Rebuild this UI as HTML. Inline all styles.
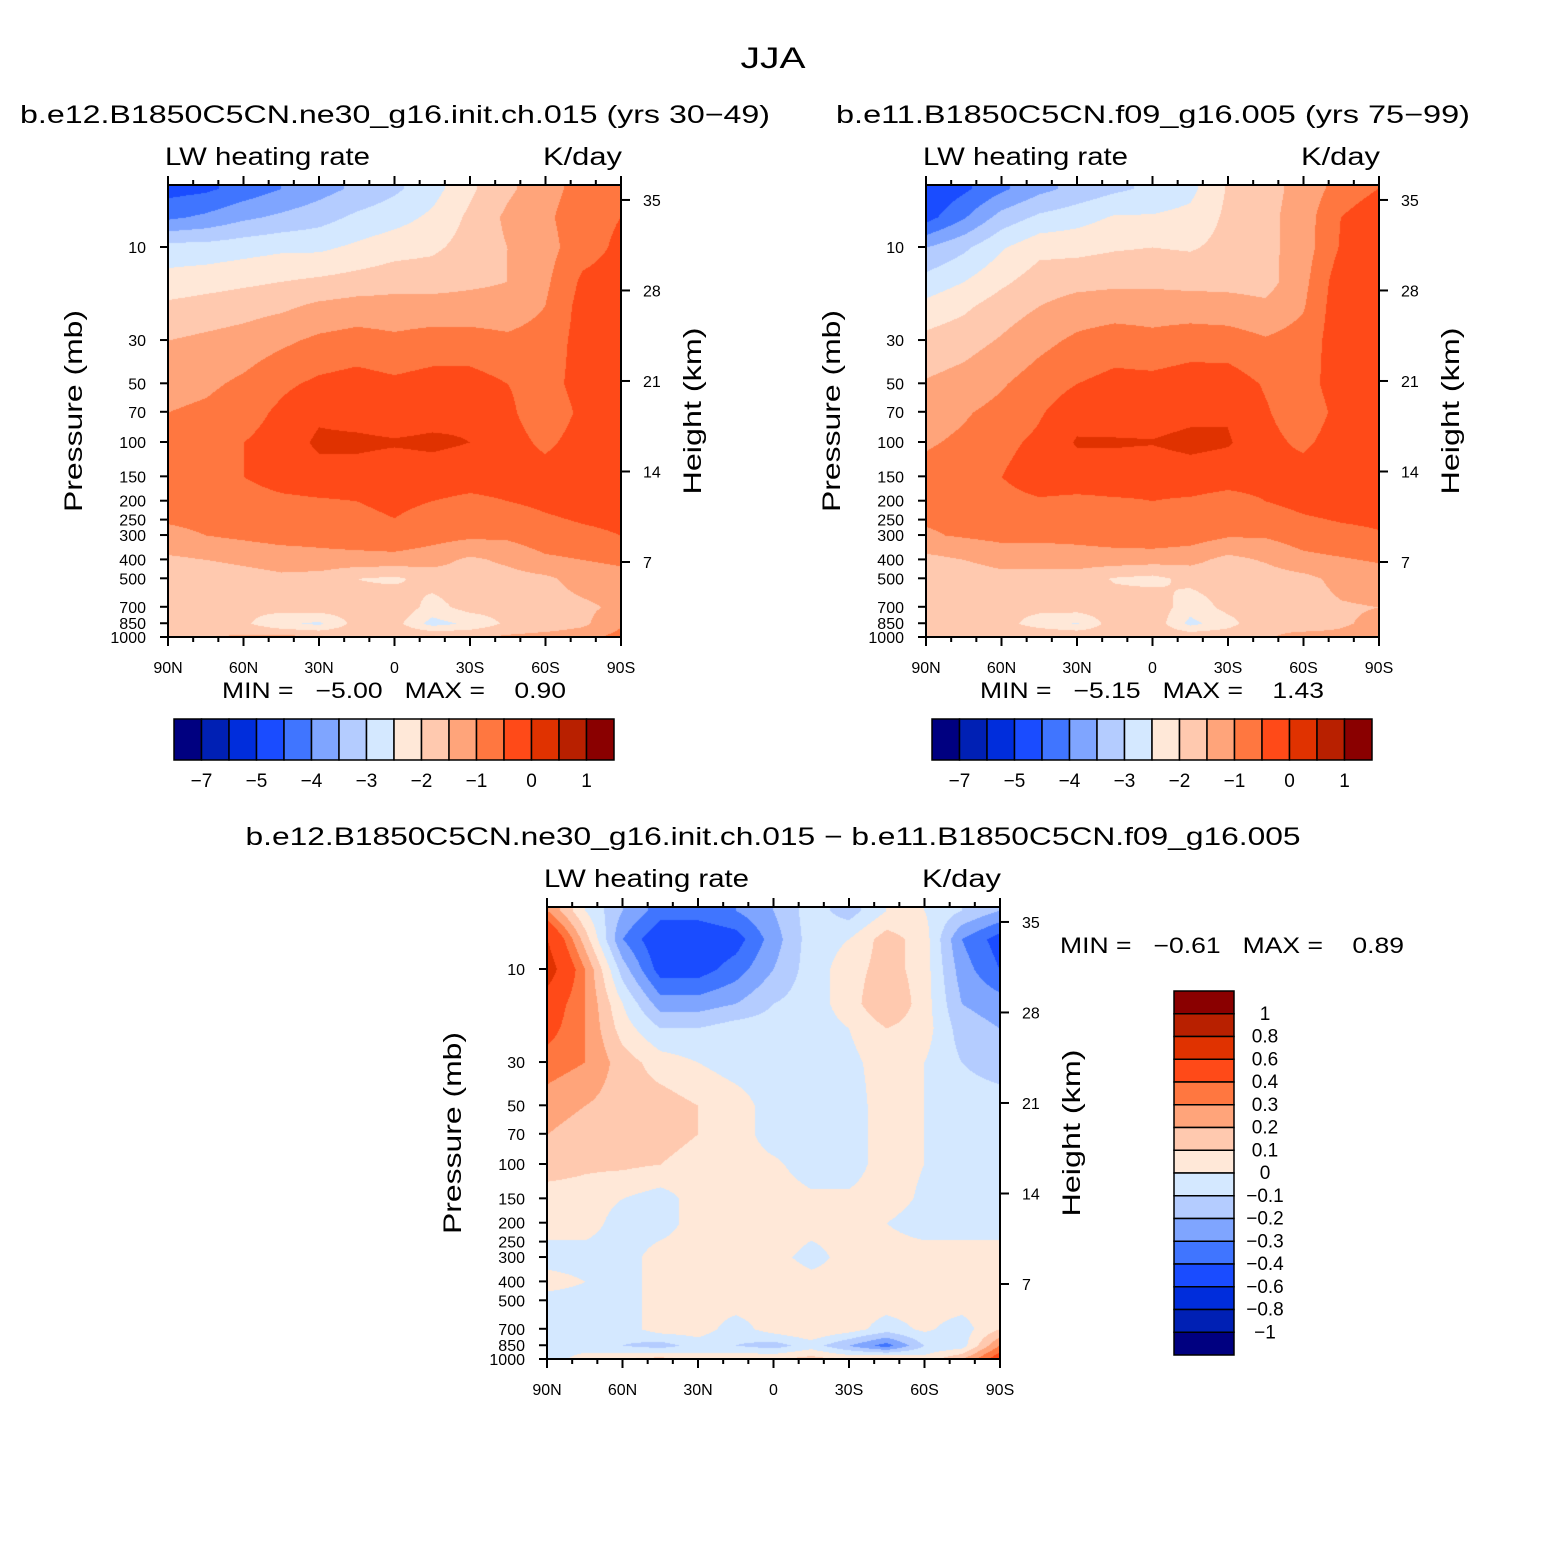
<!DOCTYPE html>
<html><head><meta charset="utf-8"><style>
body{margin:0;background:#fff;width:1547px;height:1544px;position:relative;overflow:hidden;font-family:"Liberation Sans",sans-serif}
canvas{position:absolute}
svg{position:absolute;left:0;top:0}
</style></head><body>
<canvas id="c1" width="453" height="452" style="left:168px;top:185px"></canvas>
<canvas id="c2" width="453" height="452" style="left:926px;top:185px"></canvas>
<canvas id="c3" width="453" height="452" style="left:547px;top:907px"></canvas>
<svg id="s" width="1547" height="1544"></svg>
<script>
const lats=["90N","75N","60N","45N","30N","15N","0","15S","30S","45S","60S","75S","90S"];
const levels=[5,7,10,15,20,30,50,70,100,150,200,300,400,500,700,850,1000];
const colors=["#000080","#0020B4","#002DDC","#1A4CFF","#4075FF","#7FA5FF","#B4CCFF","#D4E8FF","#FFE8D8","#FFC9AF","#FFA47A","#FF7740","#FF4A18","#E03200","#B82000","#8A0000"];
const bounds1=[-7,-6,-5,-4.5,-4,-3.5,-3,-2.5,-2,-1.5,-1,-0.5,0,0.5,1];
const boundsD=[-1,-0.8,-0.6,-0.4,-0.3,-0.2,-0.1,0,0.1,0.2,0.3,0.4,0.6,0.8,1];
const tickLabels1=["−7","−5","−4","−3","−2","−1","0","1"];
const tickLabelsD=["1","0.8","0.6","0.4","0.3","0.2","0.1","0","−0.1","−0.2","−0.3","−0.4","−0.6","−0.8","−1"];
const field1=[
[-4.7,-4.6,-4.3,-4.0,-3.7,-3.4,-3.1,-2.7,-2.1,-1.6,-1.2,-0.8,-0.6],
[-4.1,-3.9,-3.6,-3.4,-3.2,-2.9,-2.7,-2.4,-1.9,-1.4,-1.1,-0.7,-0.5],
[-2.8,-2.8,-2.7,-2.6,-2.6,-2.4,-2.2,-2.1,-1.8,-1.5,-1.2,-0.7,-0.4],
[-2.3,-2.2,-2.1,-2.0,-1.9,-1.8,-1.7,-1.7,-1.6,-1.5,-1.1,-0.4,-0.3],
[-1.9,-1.8,-1.7,-1.6,-1.4,-1.3,-1.3,-1.3,-1.3,-1.3,-1.0,-0.3,-0.25],
[-1.5,-1.4,-1.3,-1.1,-0.9,-0.8,-0.9,-0.8,-0.8,-0.9,-0.8,-0.3,-0.2],
[-1.2,-1.1,-0.9,-0.6,-0.4,-0.3,-0.4,-0.3,-0.3,-0.5,-0.7,-0.3,-0.2],
[-1.0,-0.9,-0.7,-0.4,-0.1,-0.2,-0.3,-0.2,-0.1,-0.4,-0.8,-0.4,-0.2],
[-0.9,-0.8,-0.5,-0.3,0.1,0.1,0.05,0.1,0.0,-0.3,-0.6,-0.3,-0.2],
[-0.8,-0.7,-0.5,-0.3,-0.2,-0.2,-0.3,-0.25,-0.3,-0.3,-0.3,-0.2,-0.2],
[-0.8,-0.8,-0.7,-0.6,-0.55,-0.5,-0.4,-0.5,-0.6,-0.5,-0.4,-0.3,-0.3],
[-1.1,-1.0,-0.9,-0.8,-0.8,-0.7,-0.6,-0.8,-0.9,-0.9,-0.7,-0.6,-0.5],
[-1.6,-1.5,-1.4,-1.3,-1.2,-1.2,-1.2,-1.3,-1.6,-1.4,-1.1,-1.0,-0.9],
[-1.8,-1.8,-1.7,-1.6,-1.7,-2.0,-2.1,-1.8,-1.7,-1.7,-1.6,-1.3,-1.2],
[-1.8,-1.8,-1.9,-1.8,-1.7,-1.8,-1.6,-2.2,-1.8,-1.8,-1.7,-1.6,-1.4],
[-1.8,-1.8,-1.9,-2.4,-2.6,-1.8,-1.8,-2.7,-2.4,-1.9,-1.8,-1.6,-1.1],
[-1.6,-1.5,-1.4,-1.3,-1.4,-1.6,-1.5,-1.4,-1.5,-1.4,-1.3,-1.2,-0.8]];
const field2=[
[-5.0,-4.6,-4.1,-3.65,-3.35,-3.1,-2.9,-2.65,-1.95,-1.7,-1.3,-0.8,-0.5],
[-4.7,-4.05,-3.3,-2.9,-2.7,-2.45,-2.45,-2.35,-1.9,-1.65,-1.25,-0.5,-0.15],
[-3.5,-3.1,-2.55,-2.15,-2.15,-2.05,-2.0,-2.05,-1.85,-1.65,-1.25,-0.45,-0.1],
[-2.8,-2.5,-2.1,-1.75,-1.65,-1.6,-1.6,-1.65,-1.65,-1.7,-1.15,-0.2,-0.1],
[-2.35,-2.1,-1.75,-1.5,-1.3,-1.25,-1.25,-1.25,-1.3,-1.4,-1.05,-0.15,-0.05],
[-1.85,-1.7,-1.45,-1.15,-0.9,-0.75,-0.85,-0.75,-0.77,-0.95,-0.8,-0.2,-0.05],
[-1.45,-1.3,-1.05,-0.75,-0.5,-0.35,-0.35,-0.25,-0.25,-0.55,-0.7,-0.25,-0.15],
[-1.2,-1.05,-0.85,-0.55,-0.2,-0.25,-0.25,-0.15,-0.05,-0.45,-0.8,-0.35,-0.15],
[-1.05,-0.92,-0.62,-0.4,0.05,0.05,0.03,0.15,0.05,-0.35,-0.6,-0.25,-0.15],
[-0.85,-0.75,-0.5,-0.25,-0.25,-0.25,-0.35,-0.27,-0.32,-0.35,-0.28,-0.15,-0.15],
[-0.85,-0.85,-0.65,-0.55,-0.6,-0.55,-0.5,-0.55,-0.65,-0.5,-0.35,-0.25,-0.25],
[-1.05,-0.95,-0.85,-0.85,-0.85,-0.75,-0.65,-0.75,-0.95,-0.95,-0.75,-0.65,-0.55],
[-1.65,-1.5,-1.35,-1.35,-1.25,-1.25,-1.3,-1.35,-1.65,-1.45,-1.15,-1.05,-0.95],
[-1.75,-1.75,-1.65,-1.65,-1.75,-2.05,-2.15,-1.85,-1.75,-1.75,-1.65,-1.35,-1.25],
[-1.75,-1.75,-1.85,-1.85,-1.75,-1.75,-1.65,-2.3,-1.85,-1.75,-1.72,-1.55,-1.5],
[-1.75,-1.75,-1.8,-2.25,-2.55,-1.7,-1.65,-2.65,-2.2,-1.55,-1.7,-1.55,-1.4],
[-1.55,-1.55,-1.5,-1.45,-1.45,-1.7,-1.6,-1.55,-1.6,-1.55,-1.35,-1.4,-1.3]];
const fieldD=[
[0.3,0.0,-0.2,-0.35,-0.35,-0.3,-0.2,-0.05,-0.15,0.0,0.0,-0.1,-0.2],
[0.6,0.15,-0.3,-0.5,-0.5,-0.45,-0.25,-0.05,0.0,0.15,0.05,-0.3,-0.45],
[0.7,0.3,-0.15,-0.45,-0.45,-0.35,-0.2,-0.05,0.05,0.15,0.05,-0.25,-0.4],
[0.5,0.3,0.0,-0.25,-0.25,-0.2,-0.1,-0.05,0.05,0.2,0.05,-0.2,-0.25],
[0.45,0.3,0.05,-0.1,-0.1,-0.05,-0.05,-0.05,0.0,0.1,0.05,-0.15,-0.2],
[0.35,0.3,0.15,0.05,0.0,-0.05,-0.05,-0.05,-0.03,0.05,0.0,-0.1,-0.15],
[0.25,0.2,0.15,0.15,0.1,0.05,-0.05,-0.05,-0.05,0.05,0.0,-0.05,-0.05],
[0.2,0.15,0.15,0.15,0.1,0.05,-0.05,-0.05,-0.05,0.05,0.0,-0.05,-0.05],
[0.15,0.12,0.12,0.1,0.05,0.05,0.02,-0.05,-0.05,0.05,0.0,-0.05,-0.05],
[0.05,0.05,0.0,-0.05,0.05,0.05,0.05,0.02,0.02,0.05,-0.02,-0.05,-0.05],
[0.05,0.05,-0.05,-0.05,0.05,0.05,0.1,0.05,0.05,0.0,-0.05,-0.05,-0.05],
[-0.05,-0.05,-0.05,0.05,0.05,0.05,0.05,-0.05,0.05,0.05,0.05,0.05,0.05],
[0.05,0.0,-0.05,0.05,0.05,0.05,0.1,0.05,0.05,0.05,0.05,0.05,0.05],
[-0.05,-0.05,-0.05,0.05,0.05,0.05,0.05,0.05,0.05,0.05,0.05,0.05,0.05],
[-0.05,-0.05,-0.05,0.05,0.05,-0.05,0.05,0.1,0.05,-0.05,0.02,-0.05,0.1],
[-0.05,-0.05,-0.1,-0.15,-0.05,-0.1,-0.15,-0.05,-0.2,-0.35,-0.1,-0.05,0.3],
[-0.05,0.05,0.1,0.15,0.05,0.1,0.1,0.15,0.1,0.15,0.05,0.2,0.5]];
const pLabels=[10,30,50,70,100,150,200,250,300,400,500,700,850,1000];
const hLabels=[35,28,21,14,7];
const latTicks=["90N","60N","30N","0","30S","60S","90S"];

const W=453,H=452,PXD=195;
function hex(c){return [parseInt(c.substr(1,2),16),parseInt(c.substr(3,2),16),parseInt(c.substr(5,2),16)];}
const rgb=colors.map(hex);
function colIdx(v,b){let i=0;while(i<b.length&&v>=b[i])i++;return i;}
const logL=levels.map(p=>Math.log10(p));
function drawField(id,f,b){
  const cv=document.getElementById(id),ctx=cv.getContext('2d');
  const img=ctx.createImageData(W,H);
  for(let py=0;py<H;py++){
    let lp=3-(H-py)/PXD; if(lp<logL[0])lp=logL[0];
    let k=0;while(k<logL.length-2&&lp>logL[k+1])k++;
    const ty=(lp-logL[k])/(logL[k+1]-logL[k]);
    for(let px=0;px<W;px++){
      const fx=px/(W-1)*(lats.length-1);let j=Math.min(Math.floor(fx),lats.length-2);const tx=fx-j;
      const v=(f[k][j]*(1-tx)+f[k][j+1]*tx)*(1-ty)+(f[k+1][j]*(1-tx)+f[k+1][j+1]*tx)*ty;
      const c=rgb[colIdx(v,b)];const o=(py*W+px)*4;
      img.data[o]=c[0];img.data[o+1]=c[1];img.data[o+2]=c[2];img.data[o+3]=255;
    }
  }
  ctx.putImageData(img,0,0);
}
drawField('c1',field1,bounds1);drawField('c2',field2,bounds1);drawField('c3',fieldD,boundsD);

const S=document.getElementById('s');const NS='http://www.w3.org/2000/svg';
function el(t,a,txt){const e=document.createElementNS(NS,t);for(const k in a)e.setAttribute(k,a[k]);if(txt!==undefined)e.textContent=txt;S.appendChild(e);return e;}
function txt(x,y,s,size,anchor,name,rot,len){const e=el('text',{x:x,y:y,'font-size':size,'text-anchor':anchor||'start',fill:'#000','font-family':'Liberation Sans, sans-serif'},s);
  if(len){e.setAttribute('textLength',len);e.setAttribute('lengthAdjust','spacingAndGlyphs');}
  if(rot)e.setAttribute('transform','rotate(-90 '+x+' '+y+')');return e;}
function line(x1,y1,x2,y2,w){const e=el('line',{x1:x1,y1:y1,x2:x2,y2:y2,stroke:'#000','stroke-width':w||2});return e;}

function panel(x0,y0,sub,subX,subLen,pre){
  const xS=lat=>x0+(lat+90)/180*W;
  const yP=p=>y0+H-(3-Math.log10(p))*PXD;
  const yH=h=>y0+H-75-(h-7)*12.93;
  const r=el('rect',{x:x0,y:y0,width:W,height:H,fill:'none',stroke:'#000','stroke-width':2});
  
  for(let l=-90;l<=90;l+=10){const maj=l%30===0;const x=xS(l);
    line(x,y0+H,x,y0+H+(maj?9:5));line(x,y0,x,y0-(maj?9:5));}
  latTicks.forEach((s,i)=>txt(xS(-90+30*i),y0+H+36,s,16,'middle',pre+'-x-tick-label'));
  pLabels.forEach(p=>{const y=yP(p);line(x0,y,x0-8,y);txt(x0-22,y+6,String(p),16,'end',pre+'-y-tick-label');});
  hLabels.forEach(h=>{const y=yH(h);line(x0+W,y,x0+W+9,y);txt(x0+W+22,y+6,String(h),16,'start',pre+'-height-tick-label');});
  txt(x0-86,y0+H/2,'Pressure (mb)',25,'middle',pre+'-y-axis-title',true,202);
  txt(x0+W+80,y0+H/2,'Height (km)',25,'middle',pre+'-height-axis-title',true,167);
  txt(x0-3,y0-20,'LW heating rate',25,'start',pre+'-variable-label',false,205);
  txt(x0+W+1,y0-20,'K/day',25,'end',pre+'-units-label',false,79);
  txt(subX,y0-62,sub,25,'middle',pre+'-subtitle',false,subLen);
}
txt(773,68,'JJA',30,'middle','main-title',false,65);
panel(168,185,'b.e12.B1850C5CN.ne30_g16.init.ch.015 (yrs 30−49)',395,750,'p1');
panel(926,185,'b.e11.B1850C5CN.f09_g16.005 (yrs 75−99)',1153,634,'p2');
panel(547,907,'b.e12.B1850C5CN.ne30_g16.init.ch.015 − b.e11.B1850C5CN.f09_g16.005',773,1055,'p3');
function minmax(x,y,s,name){const e=txt(x,y,s,22,'start',name,false,344);e.setAttribute('xml:space','preserve');e.style.whiteSpace='pre';}
minmax(222,698,'MIN =   −5.00   MAX =    0.90','p1-minmax');
minmax(980,698,'MIN =   −5.15   MAX =    1.43','p2-minmax');
minmax(1060,953,'MIN =   −0.61   MAX =    0.89','p3-minmax');

function hbar(x0,y0,pre){const bw=27.5;
  colors.forEach((c,i)=>{const r=el('rect',{x:x0+i*bw,y:y0,width:bw,height:41,fill:c,stroke:'#000','stroke-width':1.5});
    });
  tickLabels1.forEach((s,i)=>txt(x0+bw*(1+2*i),y0+68,s,19,'middle',pre+'-colorbar-label'));
}
hbar(174,719,'p1');hbar(932,719,'p2');
(function(){const x0=1174,y0=991,bh=364/16;
  for(let i=0;i<16;i++){const r=el('rect',{x:x0,y:y0+i*bh,width:60,height:bh,fill:colors[15-i],stroke:'#000','stroke-width':1.5});
    }
  tickLabelsD.forEach((s,i)=>txt(1265,y0+bh*(i+1)+6,s,19,'middle','diff-colorbar-label'));
})();
</script>
</body></html>
